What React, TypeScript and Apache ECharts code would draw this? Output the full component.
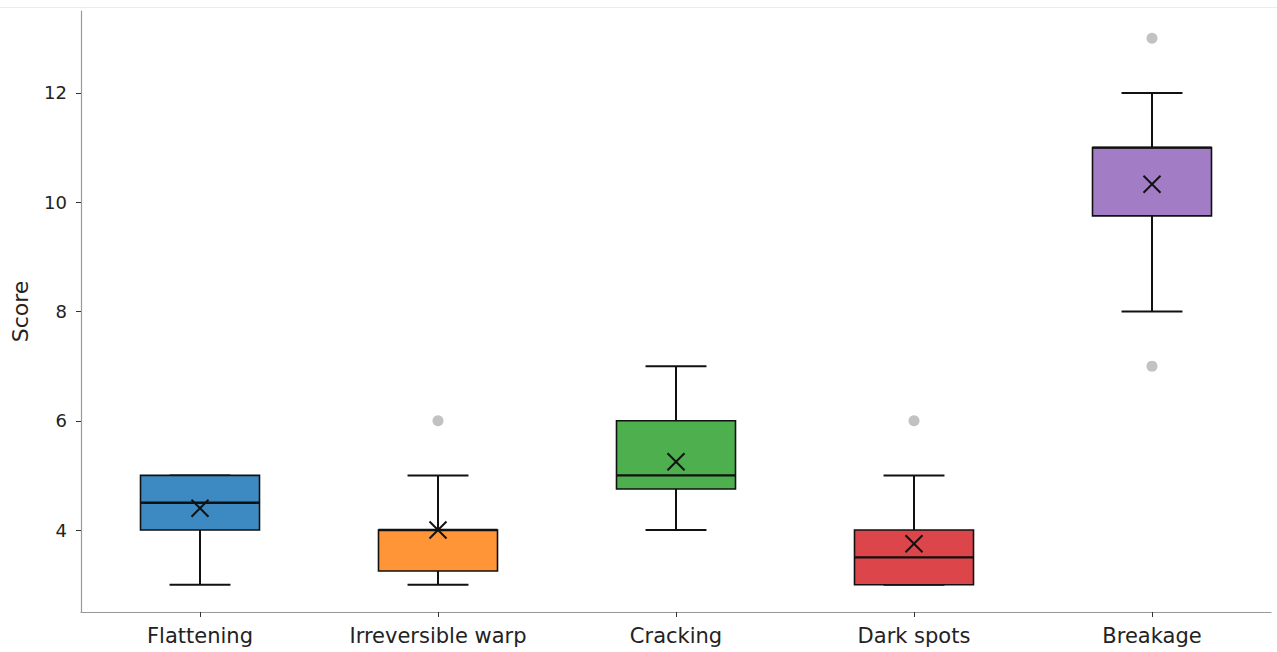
import React, { useEffect, useRef } from "react";
import * as echarts from "echarts";

const categories = ["Flattening", "Irreversible warp", "Cracking", "Dark spots", "Breakage"];
const whiskerLow = [3, 3, 4, 3, 8];
const q1 = [4, 3.25, 4.75, 3, 9.75];
const median = [4.5, 4, 5, 3.5, 11];
const q3 = [5, 4, 6, 4, 11];
const whiskerHigh = [5, 5, 7, 5, 12];
const means = [4.4, 4.0, 5.25, 3.75, 10.33];
const outliers: [number, number][] = [
  [1, 6],
  [3, 6],
  [4, 13],
  [4, 7],
];
const yTicks = [4, 6, 8, 10, 12];
const boxColors = ["#3d89c2", "#ff9536", "#4daf4e", "#dc4549", "#a27dc6"];

const FONT = "DejaVu Sans";

export default function App() {
  const ref = useRef<HTMLDivElement>(null);
  useEffect(() => {
    document.body.style.margin = "0";
    if (!ref.current) return;
    const chart = echarts.init(ref.current, null, { renderer: "svg" });
    const boxData = categories.map((_, i) => [i, whiskerLow[i], q1[i], median[i], q3[i], whiskerHigh[i], means[i]]);
    chart.setOption({
      animation: false,
      backgroundColor: "#fff",
      grid: { left: 81, right: 6, top: 11, bottom: 40, containLabel: false, outerBoundsMode: "none" },
      xAxis: {
        type: "category",
        data: categories,
        boundaryGap: true,
        axisLine: { show: true, lineStyle: { color: "#999", width: 1.2 } },
        axisTick: { show: true, alignWithLabel: true, length: 5, lineStyle: { color: "#333", width: 1 } },
        axisLabel: { fontSize: 21, color: "#222", fontFamily: FONT, margin: 13 },
        splitLine: { show: false },
      },
      yAxis: {
        type: "value",
        min: 2.5,
        max: 13.5,
        name: "Score",
        nameLocation: "middle",
        nameGap: 50,
        nameRotate: 90,
        nameTextStyle: { fontSize: 22, color: "#222", fontFamily: FONT },
        axisLine: { show: true, lineStyle: { color: "#999", width: 1.2 } },
        axisTick: { show: true, length: 5, customValues: yTicks, lineStyle: { color: "#333", width: 1 } },
        axisLabel: { fontSize: 18, color: "#222", fontFamily: FONT, margin: 14, customValues: yTicks },
        splitLine: { show: false },
      },
      graphic: [
        {
          type: "line",
          shape: { x1: 0, y1: 7.5, x2: 1277, y2: 7.5 },
          style: { stroke: "#ececec", lineWidth: 1 },
          silent: true,
        },
      ],
      series: [
        {
          type: "custom",
          data: boxData,
          encode: { x: 0, y: [1, 2, 3, 4, 5] },
          renderItem: (params: any, api: any) => {
            const idx = api.value(0);
            const bandW = api.size([1, 0])[0];
            const halfBox = bandW * 0.25;
            const halfCap = bandW * 0.128;
            const pLow = api.coord([idx, api.value(1)]);
            const pQ1 = api.coord([idx, api.value(2)]);
            const pMed = api.coord([idx, api.value(3)]);
            const pQ3 = api.coord([idx, api.value(4)]);
            const pHigh = api.coord([idx, api.value(5)]);
            const pMean = api.coord([idx, api.value(6)]);
            const cx = pMed[0];
            const lineStyle = { stroke: "#111", lineWidth: 2 };
            const m = 8.5;
            return {
              type: "group",
              children: [
                { type: "line", shape: { x1: cx, y1: pLow[1], x2: cx, y2: pQ1[1] }, style: lineStyle },
                { type: "line", shape: { x1: cx, y1: pQ3[1], x2: cx, y2: pHigh[1] }, style: lineStyle },
                { type: "line", shape: { x1: cx - halfCap, y1: pLow[1], x2: cx + halfCap, y2: pLow[1] }, style: lineStyle },
                { type: "line", shape: { x1: cx - halfCap, y1: pHigh[1], x2: cx + halfCap, y2: pHigh[1] }, style: lineStyle },
                {
                  type: "rect",
                  shape: { x: cx - halfBox, y: pQ3[1], width: halfBox * 2, height: pQ1[1] - pQ3[1] },
                  style: { fill: boxColors[params.dataIndex], stroke: "#111", lineWidth: 1.6 },
                },
                { type: "line", shape: { x1: cx - halfBox, y1: pMed[1], x2: cx + halfBox, y2: pMed[1] }, style: { stroke: "#111", lineWidth: 2.4 } },
                { type: "line", shape: { x1: cx - m, y1: pMean[1] - m, x2: cx + m, y2: pMean[1] + m }, style: { stroke: "#111", lineWidth: 2 } },
                { type: "line", shape: { x1: cx - m, y1: pMean[1] + m, x2: cx + m, y2: pMean[1] - m }, style: { stroke: "#111", lineWidth: 2 } },
              ],
            };
          },
        },
        {
          type: "scatter",
          data: outliers,
          symbol: "circle",
          symbolSize: 11,
          itemStyle: { color: "rgba(128,128,128,0.6)" },
        },
      ],
    });
    return () => chart.dispose();
  }, []);
  return <div ref={ref} style={{ width: 1277, height: 652 }} />;
}
